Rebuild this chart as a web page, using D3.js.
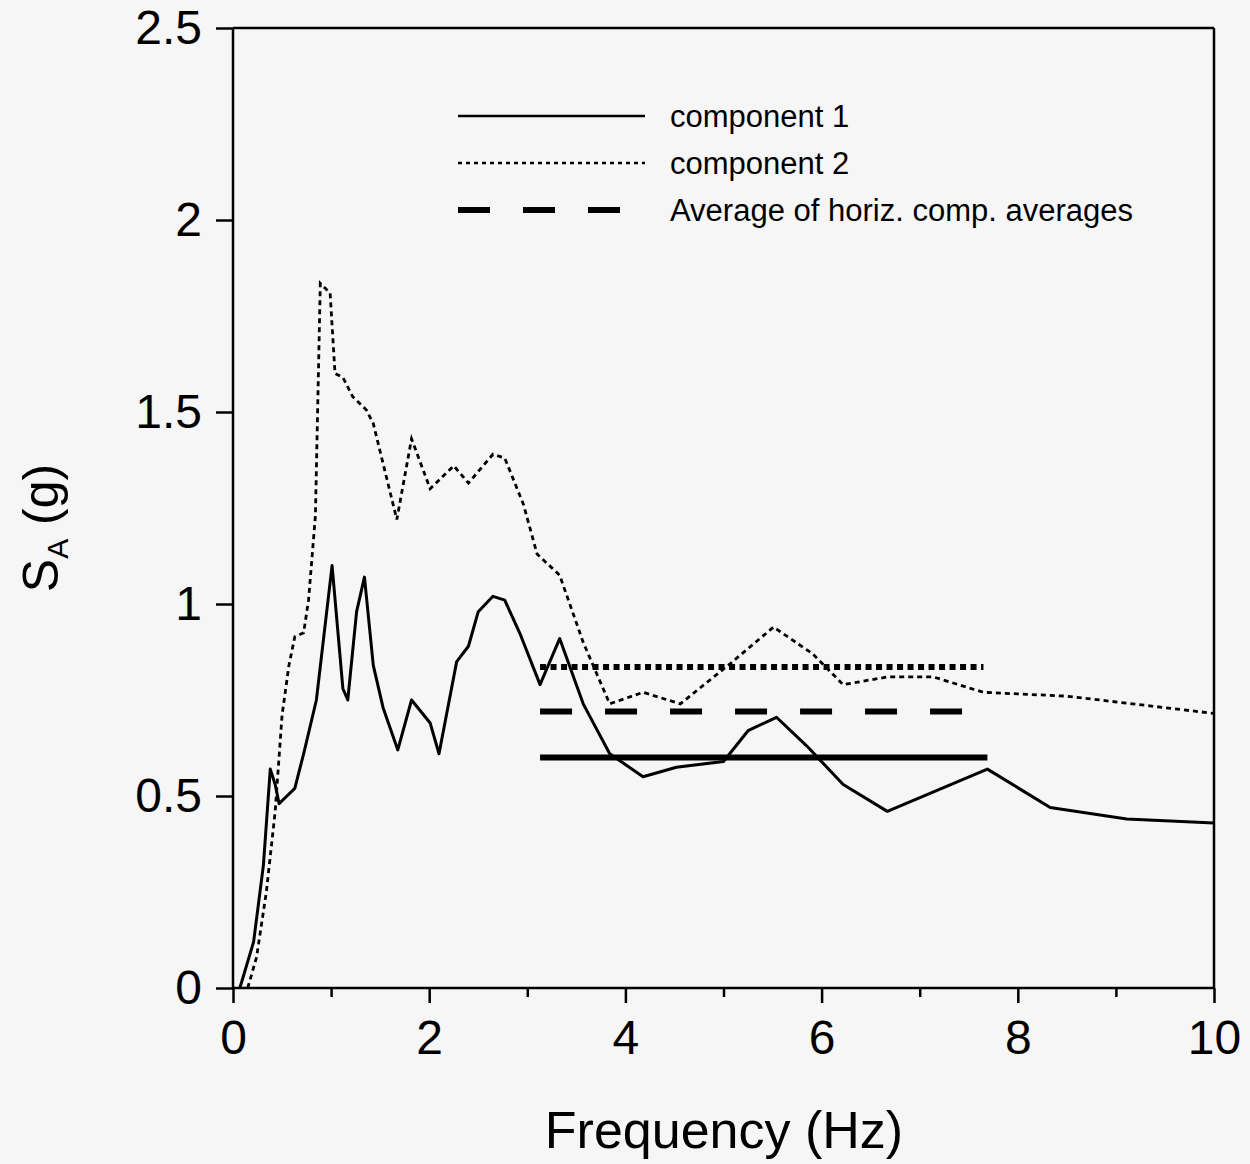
<!DOCTYPE html>
<html>
<head>
<meta charset="utf-8">
<script src="https://cdn.jsdelivr.net/npm/d3@7"></script>
<style>
  body { margin: 0; background: #f6f6f6; }
  svg { display: block; font-family: "Liberation Sans", Arial, sans-serif; }
</style>
</head>
<body>
<svg></svg>
<script>
// component 1 (solid)
var freq1 = [0.07, 0.21, 0.31, 0.38, 0.43, 0.47, 0.55, 0.63, 0.72, 0.85, 1.01, 1.12, 1.17, 1.26, 1.34, 1.43, 1.53, 1.68, 1.82, 2.01, 2.10, 2.28, 2.40, 2.50, 2.65, 2.77, 2.93, 3.13, 3.33, 3.57, 3.84, 4.18, 4.52, 5.0, 5.25, 5.54, 5.85, 6.22, 6.67, 7.69, 8.33, 9.11, 10];
var comp1 = [0, 0.12, 0.32, 0.57, 0.53, 0.48, 0.50, 0.52, 0.61, 0.75, 1.10, 0.78, 0.75, 0.98, 1.07, 0.84, 0.73, 0.62, 0.75, 0.69, 0.61, 0.85, 0.89, 0.98, 1.02, 1.01, 0.92, 0.79, 0.91, 0.74, 0.61, 0.55, 0.575, 0.59, 0.67, 0.705, 0.63, 0.53, 0.46, 0.57, 0.47, 0.44, 0.43];

// component 2 (dotted)
var freq2 = [0.15, 0.24, 0.34, 0.43, 0.50, 0.57, 0.63, 0.72, 0.77, 0.84, 0.89, 0.99, 1.04, 1.12, 1.22, 1.36, 1.43, 1.67, 1.82, 2.01, 2.25, 2.40, 2.65, 2.77, 2.96, 3.10, 3.33, 3.57, 3.84, 4.18, 4.56, 5.07, 5.51, 5.91, 6.22, 6.67, 7.14, 7.65, 8.5, 9.17, 10];
var comp2 = [0, 0.08, 0.25, 0.46, 0.71, 0.84, 0.915, 0.925, 1.01, 1.23, 1.835, 1.81, 1.60, 1.59, 1.54, 1.505, 1.47, 1.22, 1.43, 1.30, 1.36, 1.315, 1.39, 1.38, 1.26, 1.13, 1.075, 0.90, 0.74, 0.77, 0.74, 0.845, 0.94, 0.87, 0.79, 0.81, 0.81, 0.77, 0.76, 0.74, 0.715];

// averages over the 3.13 - 7.7 Hz band
var avgNames = ["comp1", "comp2", "both"];
var avgValues = [0.60, 0.836, 0.72];
var avgFrom = [3.13, 3.13, 3.13];
var avgTo = [7.69, 7.65, 7.65];

var legendLabels = ["component 1", "component 2", "Average of horiz. comp. averages"];
var xTicks = [0, 2, 4, 6, 8, 10];
var xMinorTicks = [1, 3, 5, 7, 9];
var yTicks = [0, 0.5, 1, 1.5, 2, 2.5];

var svgWidth = 1250;
var svgHeight = 1164;
var margin = {left: 233, top: 28, right: 36, bottom: 176};
var w = svgWidth - margin.left - margin.right;
var h = svgHeight - margin.top - margin.bottom;

var svg = d3.select("svg")
    .attr("width", svgWidth)
    .attr("height", svgHeight);

var g = svg.append("g")
    .attr("transform", "translate(" + margin.left + "," + margin.top + ")");

var xScale = d3.scaleLinear().domain([0, 10]).range([0, w]);
var yScale = d3.scaleLinear().domain([0, 2.5]).range([h, 0]);

// frame: top and right
g.append("line")
    .attr("x1", 0).attr("x2", w).attr("y1", 0).attr("y2", 0)
    .attr("stroke", "#000").attr("stroke-width", 2.5);
g.append("line")
    .attr("x1", w).attr("x2", w).attr("y1", 0).attr("y2", h)
    .attr("stroke", "#000").attr("stroke-width", 2.5);

var yAxis = d3.axisLeft(yScale)
    .tickValues(yTicks)
    .tickFormat(d3.format("~g"))
    .tickSize(17)
    .tickPadding(14);
var yg = g.append("g").call(yAxis);

var xAxis = d3.axisBottom(xScale)
    .tickValues(xTicks)
    .tickFormat(d3.format("~g"))
    .tickSize(15)
    .tickPadding(17);
var xg = g.append("g").attr("transform", "translate(0," + h + ")").call(xAxis);

var xMinor = d3.axisBottom(xScale)
    .tickValues(xMinorTicks)
    .tickFormat("")
    .tickSize(9);
var xmg = g.append("g").attr("transform", "translate(0," + h + ")").call(xMinor);

[yg, xg, xmg].forEach(function(a) {
    a.selectAll(".domain").attr("stroke", "#000").attr("stroke-width", 2.5);
    a.selectAll(".tick line").attr("stroke", "#000").attr("stroke-width", 2.5);
    a.selectAll(".tick text")
        .attr("fill", "#000")
        .style("font-size", "48px")
        .style("font-family", "'Liberation Sans', Arial, sans-serif");
});
xmg.select(".domain").remove();
yg.select(".domain").attr("d", "M0," + h + "V0");
xg.select(".domain").attr("d", "M0,0H" + w);

var line = d3.line()
    .x(function(d) { return xScale(d[0]); })
    .y(function(d) { return yScale(d[1]); });

var c1 = d3.zip(freq1, comp1);
var c2 = d3.zip(freq2, comp2);

g.append("path")
    .datum(c2)
    .attr("d", line)
    .attr("fill", "none")
    .attr("stroke", "#000")
    .attr("stroke-width", 2.8)
    .attr("stroke-dasharray", "5,4");

g.append("path")
    .datum(c1)
    .attr("d", line)
    .attr("fill", "none")
    .attr("stroke", "#000")
    .attr("stroke-width", 3)
    .attr("stroke-linejoin", "round");

var avgDash = {comp1: null, comp2: "6,4.5", both: "32,33"};
avgNames.forEach(function(name, i) {
    g.append("line")
        .attr("x1", xScale(avgFrom[i]))
        .attr("x2", xScale(avgTo[i]))
        .attr("y1", yScale(avgValues[i]))
        .attr("y2", yScale(avgValues[i]))
        .attr("stroke", "#000")
        .attr("stroke-width", 6)
        .attr("stroke-dasharray", avgDash[name]);
});

// legend
var legendY = [116, 163, 210];
var legendDash = [null, "4,4", "32,33"];
var legendWidth = [2.6, 2.4, 6];
legendLabels.forEach(function(lbl, i) {
    svg.append("line")
        .attr("x1", 458).attr("x2", 645)
        .attr("y1", legendY[i]).attr("y2", legendY[i])
        .attr("stroke", "#000")
        .attr("stroke-width", legendWidth[i])
        .attr("stroke-dasharray", legendDash[i]);
    svg.append("text")
        .attr("x", 670)
        .attr("y", legendY[i] + 11)
        .style("font-size", "31px")
        .text(lbl);
});

// axis titles
svg.append("text")
    .attr("x", 724)
    .attr("y", 1148)
    .attr("text-anchor", "middle")
    .style("font-size", "52px")
    .text("Frequency (Hz)");

var yt = svg.append("text")
    .attr("transform", "translate(58,528) rotate(-90)")
    .attr("text-anchor", "middle")
    .style("font-size", "50px");
yt.append("tspan").text("S");
yt.append("tspan").attr("dy", 10).style("font-size", "30px").text("A");
yt.append("tspan").attr("dy", -10).text(" (g)");
</script>
</body>
</html>
